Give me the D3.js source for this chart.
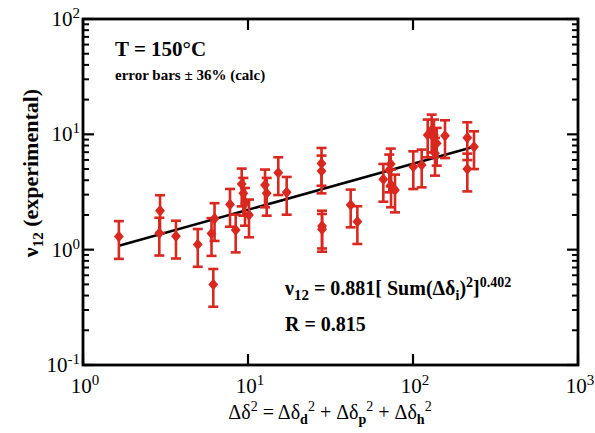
<!DOCTYPE html>
<html><head><meta charset="utf-8">
<script src="https://cdn.jsdelivr.net/npm/d3@7/dist/d3.min.js"></script>
<style>body{margin:0;background:#fff}svg{display:block}text{font-family:"Liberation Serif","Times New Roman",serif;fill:#000}</style>
</head><body>
<svg id="c" width="595" height="433"></svg>
<script>
// Data
const xVals = [1.65, 2.93, 2.90, 3.66, 4.96, 6.16, 6.01, 6.27, 7.78, 8.42, 9.16, 9.37, 9.59, 10.14,
  12.68, 12.98, 15.26, 17.16, 27.9, 27.9, 28.1, 28.1, 41.9, 46.0, 66.1, 73.3, 71.8, 73.6, 77.8,
  100.4, 112.9, 122.8, 129.8, 134.0, 139.2, 135.9, 156.3, 213.4, 234.3, 213.4];
const yVals = [1.30, 2.18, 1.39, 1.31, 1.11, 0.50, 1.38, 1.86, 2.47, 1.48, 3.71, 3.08, 2.52, 2.00,
  3.64, 3.08, 4.65, 3.14, 5.6, 4.81, 1.60, 1.50, 2.44, 1.75, 4.07, 5.53, 4.91, 3.64, 3.29,
  5.24, 5.42, 9.87, 10.9, 9.87, 8.36, 6.85, 9.73, 9.35, 7.81, 5.0];
const errFrac = 0.36;
const fitX = [1.65, 234];
const fitY = [1.08, 7.8];
const xTicks = [1, 10, 100, 1000];
const xTickExp = ["0", "1", "2", "3"];
const yTicks = [0.1, 1, 10, 100];
const yTickExp = ["-1", "0", "1", "2"];

const svg = d3.select("#c");
const L = 83, R = 578, T = 19, B = 365;
const x = d3.scaleLog().domain([1, 1000]).range([L, R]);
const y = d3.scaleLog().domain([0.1, 100]).range([B, T]);
const red = "#d8281f";

// minor ticks on y axes
const yMinor = [];
[0.1, 1, 10].forEach(d => { for (let k = 2; k <= 9; k++) yMinor.push(d * k); });
const g = svg.append("g");
yMinor.forEach(v => {
  g.append("line").attr("x1", L).attr("x2", L + 6).attr("y1", y(v)).attr("y2", y(v)).attr("stroke", "#000").attr("stroke-width", 2);
  g.append("line").attr("x1", R).attr("x2", R - 6).attr("y1", y(v)).attr("y2", y(v)).attr("stroke", "#000").attr("stroke-width", 2);
});
yTicks.forEach(v => {
  g.append("line").attr("x1", L).attr("x2", L + 11).attr("y1", y(v)).attr("y2", y(v)).attr("stroke", "#000").attr("stroke-width", 2.2);
  g.append("line").attr("x1", R).attr("x2", R - 11).attr("y1", y(v)).attr("y2", y(v)).attr("stroke", "#000").attr("stroke-width", 2.2);
});
xTicks.forEach(v => {
  g.append("line").attr("y1", B).attr("y2", B - 11).attr("x1", x(v)).attr("x2", x(v)).attr("stroke", "#000").attr("stroke-width", 2.2);
  g.append("line").attr("y1", T).attr("y2", T + 11).attr("x1", x(v)).attr("x2", x(v)).attr("stroke", "#000").attr("stroke-width", 2.2);
});
svg.append("rect").attr("x", L).attr("y", T).attr("width", R - L).attr("height", B - T)
  .attr("fill", "none").attr("stroke", "#000").attr("stroke-width", 2.8);

// tick labels
xTicks.forEach((v, i) => {
  const t = svg.append("text").attr("x", x(v) + 2).attr("y", 393).attr("text-anchor", "middle").attr("font-size", 21);
  t.append("tspan").text("10");
  t.append("tspan").attr("dy", -8).attr("font-size", 15).text(xTickExp[i]);
});
yTicks.forEach((v, i) => {
  const t = svg.append("text").attr("x", 80).attr("y", y(v) + 7).attr("text-anchor", "end").attr("font-size", 21);
  t.append("tspan").text("10");
  t.append("tspan").attr("dy", -8).attr("font-size", 15).text(yTickExp[i]);
});

// fit line
svg.append("line").attr("x1", x(fitX[0])).attr("y1", y(fitY[0])).attr("x2", x(fitX[1])).attr("y2", y(fitY[1]))
  .attr("stroke", "#000").attr("stroke-width", 2.5);

// error bars and markers
const data = xVals.map((v, i) => ({ x: v, y: yVals[i] }));
const eg = svg.append("g").attr("stroke", red).attr("stroke-width", 2.6);
data.forEach(d => {
  const cx = x(d.x), hi = y(d.y * (1 + errFrac)), lo = y(d.y * (1 - errFrac));
  eg.append("line").attr("x1", cx).attr("x2", cx).attr("y1", hi).attr("y2", lo);
  eg.append("line").attr("x1", cx - 5).attr("x2", cx + 5).attr("y1", hi).attr("y2", hi);
  eg.append("line").attr("x1", cx - 5).attr("x2", cx + 5).attr("y1", lo).attr("y2", lo);
});
svg.append("g").selectAll("path").data(data).join("path")
  .attr("d", d => { const cx = x(d.x), cy = y(d.y), r = 5.8; return `M${cx},${cy - r}L${cx + r * 0.85},${cy}L${cx},${cy + r}L${cx - r * 0.85},${cy}Z`; })
  .attr("fill", red);

// annotations
svg.append("text").attr("x", 115).attr("y", 56).attr("font-size", 21).attr("font-weight", "bold").text("T = 150°C");
svg.append("text").attr("x", 115).attr("y", 80).attr("font-size", 15).attr("font-weight", "bold").text("error bars ± 36% (calc)");

const eq = svg.append("text").attr("x", 285).attr("y", 295).attr("font-size", 20).attr("font-weight", "bold");
eq.append("tspan").text("ν");
eq.append("tspan").attr("dy", 5).attr("font-size", 15).text("12");
eq.append("tspan").attr("dy", -5).text(" = 0.881[ Sum(Δδ");
eq.append("tspan").attr("dy", 5).attr("font-size", 14).text("i");
eq.append("tspan").attr("dy", -5).text(")");
eq.append("tspan").attr("dy", -8).attr("font-size", 14).text("2");
eq.append("tspan").attr("dy", 8).text("]");
eq.append("tspan").attr("dy", -8).attr("font-size", 14).text("0.402");
svg.append("text").attr("x", 285).attr("y", 331).attr("font-size", 20).attr("font-weight", "bold").text("R = 0.815");

// axis titles
const yl = svg.append("text").attr("transform", "translate(38,173) rotate(-90)").attr("text-anchor", "middle")
  .attr("font-size", 22).attr("font-weight", "bold");
yl.append("tspan").text("ν");
yl.append("tspan").attr("dy", 5).attr("font-size", 15).text("12");
yl.append("tspan").attr("dy", -5).text(" (experimental)");

const xl = svg.append("text").attr("x", 330).attr("y", 419).attr("text-anchor", "middle").attr("font-size", 20);
xl.append("tspan").text("Δδ");
xl.append("tspan").attr("dy", -8).attr("font-size", 14).text("2");
xl.append("tspan").attr("dy", 8).text(" = Δδ");
xl.append("tspan").attr("dy", 5).attr("font-size", 14).attr("font-weight", "bold").text("d");
xl.append("tspan").attr("dy", -13).attr("font-size", 14).text("2");
xl.append("tspan").attr("dy", 8).text(" + Δδ");
xl.append("tspan").attr("dy", 5).attr("font-size", 14).attr("font-weight", "bold").text("p");
xl.append("tspan").attr("dy", -13).attr("font-size", 14).text("2");
xl.append("tspan").attr("dy", 8).text(" + Δδ");
xl.append("tspan").attr("dy", 5).attr("font-size", 14).attr("font-weight", "bold").text("h");
xl.append("tspan").attr("dy", -13).attr("font-size", 14).text("2");
</script>
</body></html>
